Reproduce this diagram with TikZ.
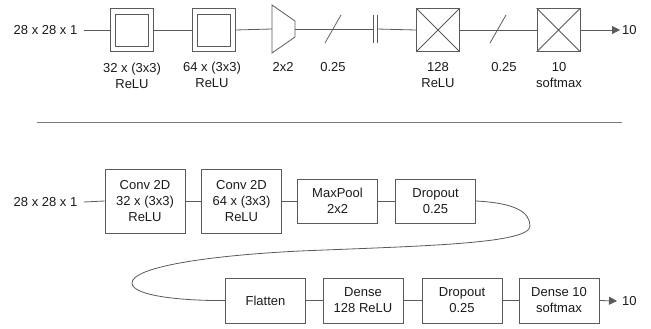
\documentclass[tikz,border=0pt]{standalone}
\usepackage{fontspec}
\setmainfont{Liberation Sans}
\usetikzlibrary{arrows.meta,calc}
\definecolor{wire}{HTML}{5A5A5A}
\definecolor{ink}{HTML}{1A1A1A}
\begin{document}
\begin{tikzpicture}[x=1pt,y=-1pt,
  every node/.style={text=ink,font=\fontsize{13}{16}\selectfont},
  wireline/.style={draw=wire,line width=0.8pt},
  blk/.style={wireline,minimum width=80pt,inner sep=0pt,align=center},
  sym/.style={wireline,minimum width=43pt,minimum height=43pt,inner sep=0pt},
  lbl/.style={anchor=north,inner sep=0pt,align=center},
  tip/.style={-{Triangle[length=8pt,width=8pt]}}]
\useasboundingbox (0,0) rectangle (651,329);

% ---------- compact symbol notation ----------
\node (tin) at (45.5,30) {28 x 28 x 1};
\node[sym] (tc1) at (131.5,30) {};
\node[wireline,minimum width=33pt,minimum height=32pt,inner sep=0pt] at (tc1) {};
\node[sym] (tc2) at (213.5,30) {};
\node[wireline,minimum width=33pt,minimum height=32pt,inner sep=0pt] at (tc2) {};
% pooling trapezoid
\coordinate (tpw) at (272,29);
\coordinate (tpe) at (295,29);
\draw[wireline] (272,5) -- (295,21) -- (295,37) -- (272,53) -- cycle;
% dropout slashes
\coordinate (ts1) at (333,29);
\coordinate (ts2) at (498,29);
% flatten plates
\coordinate (tfa) at (373,29);
\coordinate (tfb) at (377,29);
\node[sym] (td1) at (438,30) {};
\draw[wireline] (td1.north west) -- (td1.south east) (td1.north east) -- (td1.south west);
\node[sym] (td2) at (558.5,30) {};
\draw[wireline] (td2.north west) -- (td2.south east) (td2.north east) -- (td2.south west);
\node[anchor=west,inner sep=2pt] (tout) at (620,30) {10};

\draw[wireline] (tin.east) ++(3,0) -- (tc1.west);
\draw[wireline] (tc1.east) -- (tc2.west);
\draw[wireline] (tc2.east) -- (tpw);
\draw[wireline] (tpe) -- (tfa);
\draw[wireline] ($(ts1)+(-8,14)$) -- ($(ts1)+(8,-14)$);
\draw[wireline] (373,15) -- (373,43) (377,15) -- (377,43);
\draw[wireline] (tfb) -- (td1.west);
\draw[wireline] (td1.east) -- (td2.west);
\draw[wireline] ($(ts2)+(-8,14)$) -- ($(ts2)+(8,-14)$);
\draw[wireline,tip] (td2.east) -- (tout.west);

\node[lbl] at (132,63) {32 x (3x3)\\ReLU};
\node[lbl] at (212,62) {64 x (3x3)\\ReLU};
\node[lbl] at (283,62) {2x2};
\node[lbl] at (333,62) {0.25};
\node[lbl] at (438,62) {128\\ReLU};
\node[lbl] at (504,62) {0.25};
\node[lbl] at (559,62) {10\\softmax};

% ---------- separator ----------
\draw[draw=wire!80,line width=1.4pt] (37,122.5) -- (622,122.5);

% ---------- layer blocks ----------
\node (bin) at (45.5,202) {28 x 28 x 1};
\node[blk,minimum height=64pt] (b1) at (145,201) {Conv 2D\\32 x (3x3)\\ReLU};
\node[blk,minimum height=64pt] (b2) at (241.5,201) {Conv 2D\\64 x (3x3)\\ReLU};
\node[blk,minimum height=44pt] (b3) at (337.5,201) {MaxPool\\2x2};
\node[blk,minimum height=44pt] (b4) at (435.5,201) {Dropout\\0.25};
\node[blk,minimum height=45pt] (b5) at (265.5,300.5) {Flatten};
\node[blk,minimum height=45pt] (b6) at (363,300.5) {Dense\\128 ReLU};
\node[blk,minimum height=45pt] (b7) at (462,300.5) {Dropout\\0.25};
\node[blk,minimum height=45pt] (b8) at (559,300.5) {Dense 10\\softmax};
\node[anchor=west,inner sep=5pt] (bout) at (617,301) {10};

\draw[wireline] (bin.east) ++(3,0) -- (b1.west);
\draw[wireline] (b1) -- (b2);
\draw[wireline] (b2) -- (b3);
\draw[wireline] (b3) -- (b4);
\coordinate (lr) at (530,226);
\coordinate (lm) at (300,251);
\coordinate (ll) at (132,283);
\draw[wireline] (b4.east) .. controls (515,203) and (530,212) .. (lr)
  .. controls (530,244) and (420,246) .. (lm)
  .. controls (200,256) and (132,268) .. (ll)
  .. controls (132,297) and (190,301) .. (b5.west);
\draw[wireline] (b5) -- (b6);
\draw[wireline] (b6) -- (b7);
\draw[wireline] (b7) -- (b8);
\draw[wireline,tip] (b8.east) -- (bout.west);
\end{tikzpicture}
\end{document}
